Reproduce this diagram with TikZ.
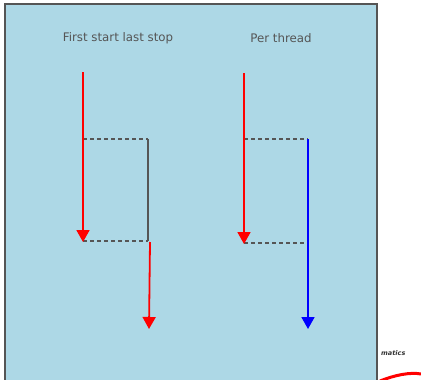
\documentclass[tikz,border=0pt]{standalone}
\usepackage{fontspec}
\setmainfont{DejaVu Sans}
\usetikzlibrary{arrows.meta}

\definecolor{panel}{HTML}{ADD8E6}
\definecolor{edge}{HTML}{555555}

\tikzset{
  run/.style={line width=1.8pt, -{Triangle[length=12pt,width=13pt]}},
  gap/.style={edge, line width=1.3pt, dash pattern=on 4pt off 3pt},
  title/.style={text=edge, font=\fontsize{11.8}{13}\selectfont}
}

\begin{document}
\begin{tikzpicture}[x=1pt,y=-1pt]
            \useasboundingbox (0,0) rectangle (421,380);
            \fill[white] (0,0) rectangle (421,380);
            \draw[edge,line width=2pt,fill=panel] (5,4) -- (5,384) -- (377,384) -- (377,4) -- cycle;

            % headings
            \node[title] (lefttitle) at (118,38) {First start last stop};
            \node[title] (righttitle) at (281,38) {Per thread};

            % first start, last stop
            \coordinate (a1) at (83,72);
            \coordinate (a2) at (83,242);
            \coordinate (b1) at (148,139);
            \coordinate (b2) at (148,241);
            \coordinate (c1) at (150,242);
            \coordinate (c2) at (149,329);
            \draw[gap] (a1 |- b1) -- (b1);
            \draw[gap] (a1 |- b2) -- (b2);
            \draw[edge,line width=1.5pt] (b1) -- (b2);
            \draw[run,red] (a1) -- (a2);
            \draw[run,red] (c1) -- (c2);

            % per thread
            \coordinate (d1) at (244,73);
            \coordinate (d2) at (244,244);
            \coordinate (e1) at (308,139);
            \coordinate (e2) at (308,329);
            \coordinate (e3) at (308,243);
            \draw[gap] (d1 |- e1) -- (e1);
            \draw[gap] (d1 |- e3) -- (e3);
            \draw[run,red] (d1) -- (d2);
            \draw[run,blue] (e1) -- (e2);

            % leftover bits at the corner
            \node[anchor=west,inner sep=0pt,font=\bfseries\itshape\fontsize{6.5}{7}\selectfont,text=black!80] (frag) at (381,353) {matics};
            \draw[red,line width=3pt] (380,381) .. controls (395,375) and (410,372) .. (421,374);
        \end{tikzpicture}
\end{document}
